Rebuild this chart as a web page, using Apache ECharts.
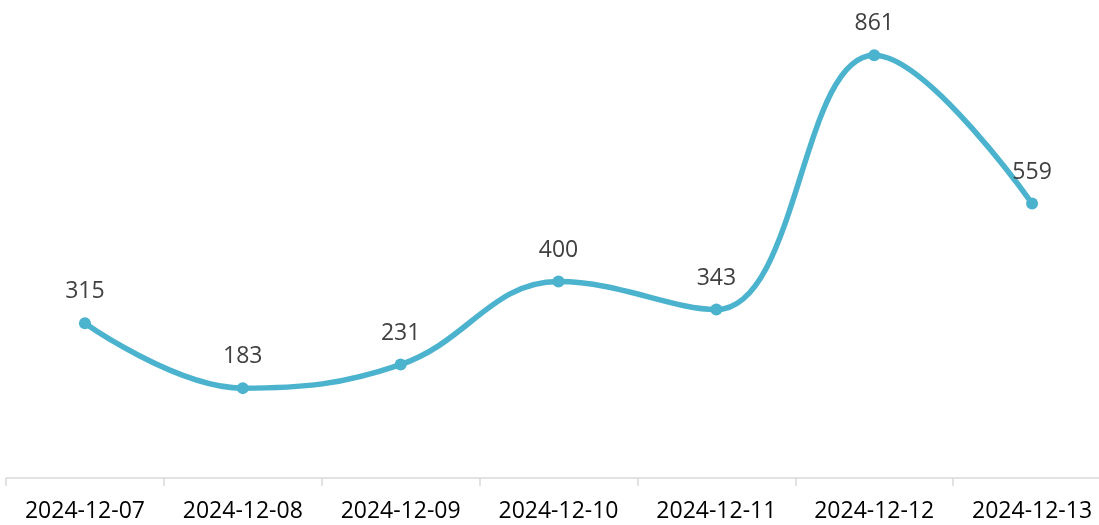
<!DOCTYPE html>
<html>
<head>
<meta charset="utf-8">
<script src="https://cdn.jsdelivr.net/npm/echarts@6/dist/echarts.min.js"></script>
<style>
  html, body { margin: 0; padding: 0; background: #fff; }
  #chart { width: 1099px; height: 525px; }
</style>
</head>
<body>
<div id="chart"></div>
<script>
const dates = ['2024-12-07', '2024-12-08', '2024-12-09', '2024-12-10', '2024-12-11', '2024-12-12', '2024-12-13']
const counts = [315, 183, 231, 400, 343, 861, 559]

const chart = echarts.init(document.getElementById('chart'))

chart.setOption({
  animation: false,
  textStyle: { fontFamily: 'Open Sans' },
  grid: { left: 6, width: 1105, top: 36, bottom: 47, outerBoundsMode: 'none' },
  xAxis: {
    type: 'category',
    data: dates,
    boundaryGap: true,
    axisLine: { lineStyle: { color: '#d9d9d9', width: 1.5 } },
    axisTick: { show: true, length: 8, lineStyle: { color: '#d9d9d9', width: 1.5 } },
    axisLabel: { color: '#000', fontSize: 23, margin: 22, interval: 0 }
  },
  yAxis: {
    type: 'value',
    min: 0,
    max: 900,
    show: false,
    splitLine: { show: false }
  },
  series: [{
    type: 'line',
    data: counts,
    smooth: 0.4,
    symbol: 'circle',
    symbolSize: 12,
    lineStyle: { color: '#4bb3cd', width: 5.5 },
    itemStyle: { color: '#4bb3cd' },
    label: {
      show: true,
      position: 'top',
      distance: 14,
      color: '#404040',
      fontSize: 23
    }
  }]
})
</script>
</body>
</html>
